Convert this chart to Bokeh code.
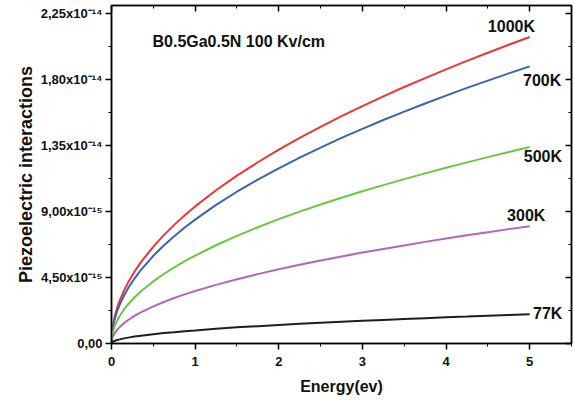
from bokeh.plotting import figure
from bokeh.models import LinearAxis, FixedTicker, Label, Range1d, CustomJSTickFormatter
from bokeh.embed import file_html
from bokeh.resources import INLINE

# Energy (eV)
energy = [0, 0.005, 0.01, 0.02, 0.035, 0.05, 0.075, 0.1, 0.15, 0.2, 0.275, 0.35, 0.5, 0.625,
          0.75, 0.875, 1.0, 1.25, 1.5, 1.75, 2.0, 2.25, 2.5, 2.75, 3.0, 3.25, 3.5, 3.75,
          4.0, 4.25, 4.5, 4.75, 5.0]
# Piezoelectric interactions, in units of 1e-15
t1000 = [0, 0.66, 0.93, 1.32, 1.75, 2.09, 2.56, 2.96, 3.62, 4.18, 4.90, 5.53, 6.61, 7.39,
         8.09, 8.74, 9.35, 10.45, 11.45, 12.36, 13.22, 14.02, 14.78, 15.50, 16.19, 16.85,
         17.49, 18.10, 18.69, 19.27, 19.83, 20.37, 20.9]
t700 = [0, 0.60, 0.84, 1.19, 1.58, 1.89, 2.32, 2.67, 3.27, 3.78, 4.43, 5.00, 5.98, 6.68,
        7.32, 7.91, 8.45, 9.45, 10.35, 11.18, 11.95, 12.68, 13.36, 14.02, 14.64, 15.24,
        15.81, 16.37, 16.90, 17.43, 17.93, 18.42, 18.9]
t500 = [0, 0.42, 0.60, 0.85, 1.12, 1.34, 1.64, 1.89, 2.32, 2.68, 3.14, 3.55, 4.24, 4.74,
        5.19, 5.61, 5.99, 6.70, 7.34, 7.93, 8.48, 8.99, 9.48, 9.94, 10.38, 10.80, 11.21,
        11.60, 11.98, 12.35, 12.71, 13.06, 13.4]
t300 = [0, 0.25, 0.36, 0.51, 0.67, 0.80, 0.98, 1.13, 1.39, 1.60, 1.88, 2.12, 2.53, 2.83,
        3.10, 3.35, 3.58, 4.00, 4.38, 4.73, 5.06, 5.37, 5.66, 5.93, 6.20, 6.45, 6.69, 6.93,
        7.16, 7.38, 7.59, 7.80, 8.0]
t77 = [0, 0.06, 0.09, 0.13, 0.17, 0.20, 0.25, 0.28, 0.35, 0.40, 0.47, 0.53, 0.63, 0.71,
       0.77, 0.84, 0.89, 1.00, 1.10, 1.18, 1.26, 1.34, 1.41, 1.48, 1.55, 1.61, 1.67, 1.73,
       1.79, 1.84, 1.90, 1.95, 2.0]

series_names = ["1000K", "700K", "500K", "300K", "77K"]
series = [t1000, t700, t500, t300, t77]
colors = ["#ee3535", "#3a63b3", "#6cc644", "#b466b6", "#1e1e1e"]

x_ticks = [0, 1, 2, 3, 4, 5]
y_ticks = [0, 4.5, 9, 13.5, 18, 22.5]
y_tick_labels = ["0,00", "4,50x10\u207b\u00b9\u2075", "9,00x10\u207b\u00b9\u2075",
                 "1,35x10\u207b\u00b9\u2074", "1,80x10\u207b\u00b9\u2074", "2,25x10\u207b\u00b9\u2074"]

FONT = "Liberation Sans"

p = figure(width=574, height=400, output_backend="svg", toolbar_location=None,
           x_range=Range1d(0, 5.5), y_range=Range1d(0, 23.05),
           min_border_left=111, min_border_right=3, min_border_top=5, min_border_bottom=57,
           x_axis_label="Energy(ev)", y_axis_label="Piezoelectric interactions")
p.grid.visible = False
p.outline_line_color = "#222222"
p.outline_line_width = 1.5
p.background_fill_color = "white"
p.border_fill_color = "white"

for ys, c in zip(series, colors):
    p.line(energy, ys, line_color=c, line_width=2)

# bottom axis
xa = p.xaxis[0]
xa.ticker = FixedTicker(ticks=x_ticks, minor_ticks=[0.5, 1.5, 2.5, 3.5, 4.5, 5.5])
xa.major_tick_in = 0
xa.major_tick_out = 6
xa.minor_tick_in = 0
xa.minor_tick_out = 3
xa.major_label_standoff = 7
xa.major_label_text_font = FONT
xa.major_label_text_font_style = "bold"
xa.major_label_text_font_size = "13px"
xa.major_label_text_color = "#111111"
xa.axis_label_text_font = FONT
xa.axis_label_text_font_style = "bold"
xa.axis_label_text_font_size = "16px"
xa.axis_label_text_color = "#111111"
xa.axis_label_standoff = 9
xa.axis_line_width = 1.5
xa.major_tick_line_width = 1.5

# left axis
ya = p.yaxis[0]
ya.ticker = FixedTicker(ticks=y_ticks, minor_ticks=[2.25, 6.75, 11.25, 15.75, 20.25])
ya.major_label_overrides = dict(zip(y_ticks, y_tick_labels))
ya.major_tick_in = 0
ya.major_tick_out = 6
ya.minor_tick_in = 0
ya.minor_tick_out = 3
ya.major_label_standoff = 3
ya.major_label_text_font = FONT
ya.major_label_text_font_style = "bold"
ya.major_label_text_font_size = "13px"
ya.major_label_text_color = "#111111"
ya.axis_label_text_font = FONT
ya.axis_label_text_font_style = "bold"
ya.axis_label_text_font_size = "18px"
ya.axis_label_text_color = "#111111"
ya.axis_label_standoff = 2
ya.axis_line_width = 1.5
ya.major_tick_line_width = 1.5

# mirrored axes (ticks inward, no labels)
for loc, ticks, minors in (("right", y_ticks, [2.25, 6.75, 11.25, 15.75, 20.25]),
                           ("above", x_ticks, [0.5, 1.5, 2.5, 3.5, 4.5, 5.5])):
    ax = LinearAxis(ticker=FixedTicker(ticks=ticks, minor_ticks=minors),
                    formatter=CustomJSTickFormatter(code="return ''"))
    ax.major_tick_in = 6
    ax.major_tick_out = 0
    ax.minor_tick_in = 3
    ax.minor_tick_out = 0
    ax.major_label_standoff = 0
    ax.axis_line_width = 1.5
    ax.major_tick_line_width = 1.5
    p.add_layout(ax, loc)

# series labels
label_pos = [(4.50, 21.6), (4.92, 17.96), (4.93, 12.72), (4.73, 8.76), (5.04, 2.05)]
for name, (lx, ly) in zip(series_names, label_pos):
    p.add_layout(Label(x=lx, y=ly, text=name, text_align="left", text_baseline="middle",
                       text_font=FONT, text_font_style="bold", text_font_size="16px",
                       text_color="#111111"))

p.add_layout(Label(x=0.49, y=20.59, text="B0.5Ga0.5N 100 Kv/cm", text_align="left",
                   text_baseline="middle", text_font=FONT, text_font_style="bold",
                   text_font_size="16px", text_color="#111111"))

open("out.html", "w").write(file_html(p, INLINE))
